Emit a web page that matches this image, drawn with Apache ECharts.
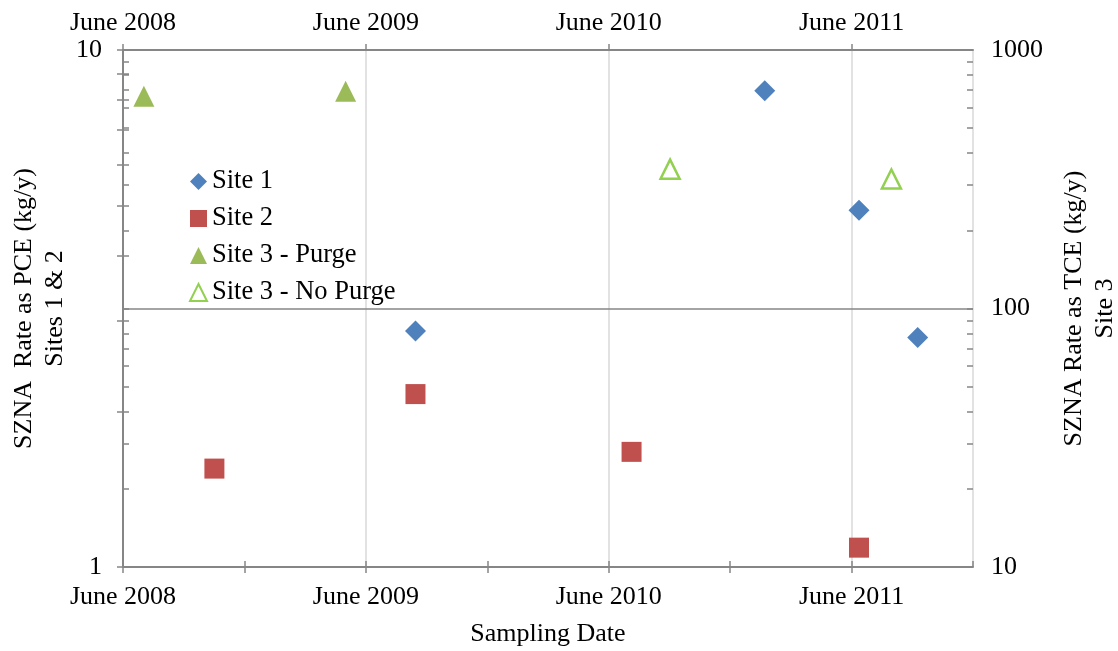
<!DOCTYPE html>
<html><head><meta charset="utf-8">
<script src="https://cdn.jsdelivr.net/npm/echarts@6/dist/echarts.min.js"></script>
<style>html,body{margin:0;padding:0;background:#fff}#c{width:1118px;height:651px}</style>
</head><body><div id="c"></div>
<script>
// ---- data ----
const site1Dates = ['2011-01-23', '2011-06-12', '2009-08-15', '2011-09-09'];
const site1Values = [8.34, 4.90, 2.86, 2.78];
const site2Dates = ['2008-10-17', '2009-08-15', '2010-07-05', '2011-06-12'];
const site2Values = [1.55, 2.16, 1.67, 1.09];
const site3PurgeDates = ['2008-07-02', '2009-05-01'];
const site3PurgeValues = [663, 692];
const site3NoPurgeDates = ['2010-09-02', '2011-07-31'];
const site3NoPurgeValues = [346, 317];
const seriesNames = ['Site 1', 'Site 2', 'Site 3 - Purge', 'Site 3 - No Purge'];
const xTickLabels = ['June 2008', 'June 2009', 'June 2010', 'June 2011'];
const leftTickValues = [1, 2, 3, 4, 5, 6, 7, 8, 9, 10];
const leftLabelValues = [1, 10];
const rightTickValues = [10, 20, 30, 40, 50, 60, 70, 80, 90, 100, 200, 300, 400, 500, 600, 700, 800, 900, 1000];
const rightLabelValues = [10, 100, 1000];
const rightGridValue = 100;

// months elapsed since 1 June 2008 (axis origin)
function monthsSince(s) {
  const [y, m, d] = s.split('-').map(Number);
  const dim = new Date(y, m, 0).getDate();
  return (y - 2008) * 12 + (m - 6) + (d - 1) / dim;
}
function pairs(dates, vals) { return dates.map((d, i) => [monthsSince(d), vals[i]]); }

const FONT = "'Liberation Serif', 'Times New Roman', serif";
const AX = '#868686';
const txt = { fontFamily: FONT, fontSize: 26, color: '#000' };
const xLabel = v => (v % 12 === 0 && xTickLabels[v / 12]) ? xTickLabels[v / 12] : '';
const plain = v => String(Math.round(v));
const tickStyle = { color: AX, width: 1.5 };
// hidden companion axes that only draw the inner half of "cross" ticks
const ghost = {
  axisLine: { show: false }, axisLabel: { show: false }, splitLine: { show: false }
};

const chart = echarts.init(document.getElementById('c'));
chart.setOption({
  animation: false,
  backgroundColor: '#fff',
  grid: { left: 123, right: 145, top: 50, bottom: 84, containLabel: false, outerBoundsMode: 'none' },
  legend: {
    orient: 'vertical', left: 189, top: 168, padding: 0,
    itemWidth: 17, itemHeight: 17, itemGap: 10,
    textStyle: Object.assign({}, txt, { fontSize: 26.5, padding: [0, 0, 0, 0] }),
    data: seriesNames
  },
  xAxis: [
    {
      type: 'value', position: 'bottom', min: 0, max: 42, interval: 6,
      axisLine: { show: true, lineStyle: { color: AX, width: 2 } },
      axisTick: { show: true, length: 6, lineStyle: tickStyle },
      axisLabel: Object.assign({ formatter: xLabel, margin: 17, showMaxLabel: false }, txt),
      splitLine: { show: false },
      name: 'Sampling Date', nameLocation: 'middle', nameGap: 54, nameMoveOverlap: false,
      nameTextStyle: txt
    },
    {
      type: 'value', position: 'top', min: 0, max: 42, interval: 12,
      axisLine: { show: true, lineStyle: { color: AX, width: 2 } },
      axisTick: { show: true, length: 6, lineStyle: tickStyle },
      axisLabel: Object.assign({ formatter: xLabel, margin: 14, showMaxLabel: false }, txt),
      splitLine: { show: true, lineStyle: { color: '#d9d9d9', width: 1.5 } }
    },
    Object.assign({
      type: 'value', position: 'bottom', offset: 0, min: 0, max: 42, interval: 6,
      axisTick: { show: true, inside: true, length: 6, lineStyle: tickStyle }
    }, ghost)
  ],
  yAxis: [
    {
      type: 'log', logBase: 10, min: 1, max: 10, position: 'left',
      axisLine: { show: true, lineStyle: { color: AX, width: 2 } },
      axisTick: { show: true, length: 6, customValues: leftTickValues, lineStyle: tickStyle },
      axisLabel: Object.assign({ customValues: leftLabelValues, margin: 21, formatter: plain }, txt),
      splitLine: { show: false },
      name: 'SZNA  Rate as PCE (kg/y)\nSites 1 & 2', nameLocation: 'middle', nameRotate: 90,
      nameGap: 52, nameMoveOverlap: false,
      nameTextStyle: Object.assign({ lineHeight: 31 }, txt)
    },
    {
      type: 'log', logBase: 10, min: 10, max: 1000, position: 'right',
      axisLine: { show: true, lineStyle: { color: AX, width: 2 } },
      axisTick: { show: true, length: 6, customValues: rightTickValues, lineStyle: tickStyle },
      axisLabel: Object.assign({ customValues: rightLabelValues, margin: 18, formatter: plain }, txt),
      splitLine: { show: false },
      name: 'SZNA Rate as TCE (kg/y)\nSite 3', nameLocation: 'middle', nameRotate: 90,
      nameGap: 86, nameMoveOverlap: false,
      nameTextStyle: Object.assign({ lineHeight: 31 }, txt)
    },
    Object.assign({
      type: 'log', logBase: 10, min: 1, max: 10, position: 'left', offset: 0,
      axisTick: { show: true, inside: true, length: 6, customValues: leftTickValues, lineStyle: tickStyle }
    }, ghost),
    Object.assign({
      type: 'log', logBase: 10, min: 10, max: 1000, position: 'right', offset: 0,
      axisTick: { show: true, inside: true, length: 6, customValues: rightTickValues, lineStyle: tickStyle }
    }, ghost)
  ],
  series: [
    { name: seriesNames[0], type: 'scatter', xAxisIndex: 0, yAxisIndex: 0, symbol: 'diamond', symbolSize: 21,
      itemStyle: { color: '#4F81BD', opacity: 1 }, data: pairs(site1Dates, site1Values) },
    { name: seriesNames[1], type: 'scatter', xAxisIndex: 0, yAxisIndex: 0, symbol: 'rect', symbolSize: 20,
      itemStyle: { color: '#C0504D', opacity: 1 }, data: pairs(site2Dates, site2Values) },
    { name: seriesNames[2], type: 'scatter', xAxisIndex: 0, yAxisIndex: 1, symbol: 'triangle', symbolSize: 21,
      itemStyle: { color: '#9BBB59', opacity: 1 }, data: pairs(site3PurgeDates, site3PurgeValues),
      markLine: {
        silent: true, symbol: 'none', animation: false,
        label: { show: false },
        lineStyle: { color: AX, width: 1.5, type: 'solid' },
        data: [{ yAxis: rightGridValue }]
      }
    },
    { name: seriesNames[3], type: 'scatter', xAxisIndex: 0, yAxisIndex: 1, symbol: 'triangle', symbolSize: 19,
      itemStyle: { color: '#ffffff', borderColor: '#92D050', borderWidth: 2.5, opacity: 1 },
      data: pairs(site3NoPurgeDates, site3NoPurgeValues) }
  ]
});
</script></body></html>
